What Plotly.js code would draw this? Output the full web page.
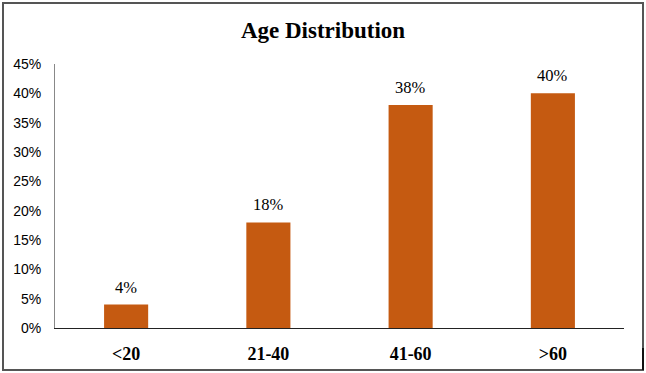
<!DOCTYPE html>
<html><head><meta charset="utf-8">
<script src="https://cdn.plot.ly/plotly-3.0.1.min.js"></script>
<style>
html,body{margin:0;padding:0;background:#fff;}
#wrap{position:relative;width:646px;height:373px;}
#chart{width:646px;height:373px;}
#frame{position:absolute;left:2px;top:2px;width:638px;height:365px;border:2px solid #555;pointer-events:none;}
#shadow{position:absolute;left:642px;top:348px;width:2px;height:22px;background:#111;pointer-events:none;}
</style></head>
<body><div id="wrap"><div id="chart"></div><div id="frame"></div><div id="shadow"></div></div>
<script>
const categories = ['<20', '21-40', '41-60', '>60'];
const shares = [4, 18, 38, 40];
const barLabels = ['4%', '18%', '38%', '40%'];
const yTickVals = [0, 5, 10, 15, 20, 25, 30, 35, 40, 45];
const yTickText = ['0%', '5%', '10%', '15%', '20%', '25%', '30%', '35%', '40%', '45%'];

const trace = {
  type: 'bar', x: categories, y: shares,
  marker: {color: '#C55A11'}, width: 0.31, hoverinfo: 'none'
};
const annotations = categories.map((c, i) => ({
  x: c, y: shares[i], text: barLabels[i], showarrow: false,
  yanchor: 'bottom', yshift: 6,
  font: {family: 'Liberation Serif, Times New Roman, serif', size: 16.5, color: '#000'}
}));
const layout = {
  width: 646, height: 373,
  margin: {l: 55, r: 22, t: 64, b: 45},
  paper_bgcolor: '#fff', plot_bgcolor: '#fff',
  showlegend: false,
  title: {text: '<b>Age Distribution</b>', x: 0.5, xanchor: 'center', y: 1 - 30/373, yanchor: 'middle',
    font: {family: 'Liberation Serif, Times New Roman, serif', size: 23, color: '#000'}},
  xaxis: {
    showline: true, linecolor: '#222', linewidth: 1, ticks: '', showgrid: false,
    ticklabelstandoff: 9,
    tickfont: {family: 'Liberation Serif, Times New Roman, serif', size: 18, color: '#000', weight: 'bold'}
  },
  yaxis: {
    range: [0, 45], tickvals: yTickVals, ticktext: yTickText,
    showline: true, linecolor: '#888', linewidth: 1, ticks: '', showgrid: false, zeroline: false,
    ticklabelstandoff: 10,
    tickfont: {family: 'Liberation Sans, Arial, sans-serif', size: 14, color: '#000'}
  },
  annotations: annotations
};
Plotly.newPlot('chart', [trace], layout, {staticPlot: true, displayModeBar: false});
</script></body></html>
